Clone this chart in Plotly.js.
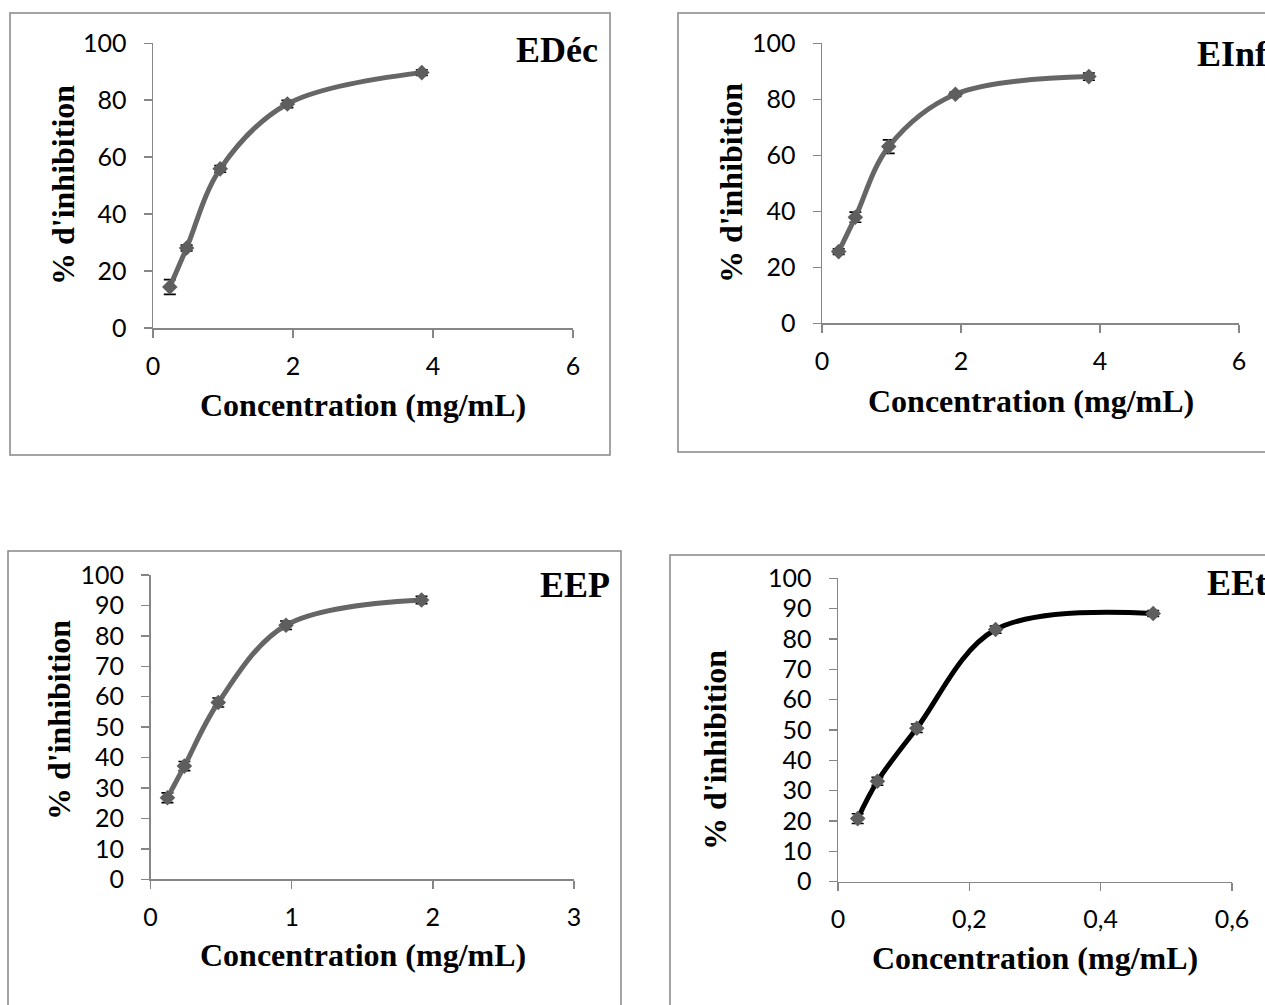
<!DOCTYPE html>
<html>
<head>
<meta charset="utf-8">
<script src="https://cdn.plot.ly/plotly-3.0.1.min.js"></script>
<style>html,body{margin:0;padding:0;background:#fff;} #chart{width:1265px;height:1005px;}</style>
</head>
<body>
<div id="chart"></div>
<script>
// ---- Data ----
const panelNames = ["EDéc", "EInf", "EEP", "EEt"];
const xTitle = "Concentration (mg/mL)";
const yTitle = "% d'inhibition";

const conc_EDec = [0.24, 0.48, 0.96, 1.92, 3.84];
const inhib_EDec = [14.4, 28.1, 55.9, 78.7, 89.7];
const err_EDec = [2.6, 1.0, 1.2, 1.3, 1.0];

const conc_EInf = [0.24, 0.48, 0.96, 1.92, 3.84];
const inhib_EInf = [25.6, 37.9, 63.1, 81.8, 88.1];
const err_EInf = [1.0, 1.8, 2.4, 0.8, 1.3];

const conc_EEP = [0.12, 0.24, 0.48, 0.96, 1.92];
const inhib_EEP = [26.8, 37.2, 58.1, 83.5, 91.8];
const err_EEP = [1.6, 1.5, 1.5, 1.4, 1.2];

const conc_EEt = [0.03, 0.06, 0.12, 0.24, 0.48];
const inhib_EEt = [20.8, 33.1, 50.6, 83.1, 88.4];
const err_EEt = [1.6, 1.3, 1.4, 1.2, 1.0];

const xTicks_A = [0, 2, 4, 6];
const xTicks_EEP = [0, 1, 2, 3];
const xTicks_EEt = [0, 0.2, 0.4, 0.6];
const xTickText_EEt = ["0", "0,2", "0,4", "0,6"];
const yTicks_20 = [0, 20, 40, 60, 80, 100];
const yTicks_10 = [0, 10, 20, 30, 40, 50, 60, 70, 80, 90, 100];

// ---- Layout helpers ----
const W = 1265, H = 1005;
const px = v => v / W;
const py = v => 1 - v / H;

const axisColor = "#868686";
const tickFont = {family: "Lato, 'Open Sans', sans-serif", size: 25, color: "#000"};
const titleFont = {family: "'Liberation Serif', 'Times New Roman', serif", size: 32, color: "#000"};
const nameFont = {family: "'Liberation Serif', 'Times New Roman', serif", size: 36, color: "#000"};

function xAxis(domain, range, vals, text) {
  const a = {domain: domain, range: range, tickmode: "array", tickvals: vals,
    showgrid: false, zeroline: false, showline: true, linecolor: axisColor, linewidth: 1.5,
    ticks: "outside", ticklen: 8, tickwidth: 1.5, tickcolor: axisColor,
    tickfont: tickFont, ticklabelstandoff: 7, automargin: false, fixedrange: true};
  if (text) a.ticktext = text;
  return a;
}
function yAxis(domain, vals, anchor) {
  return {domain: domain, range: [0, 100], tickmode: "array", tickvals: vals, anchor: anchor,
    showgrid: false, zeroline: false, showline: true, linecolor: axisColor, linewidth: 1.5,
    ticks: "outside", ticklen: 8, tickwidth: 1.5, tickcolor: axisColor,
    tickfont: tickFont, ticklabelstandoff: 12, automargin: false, fixedrange: true};
}

function series(x, y, err, xa, ya, lineColor) {
  return {x: x, y: y, xaxis: xa, yaxis: ya, type: "scatter", mode: "lines+markers",
    line: {shape: "spline", smoothing: 1, color: lineColor, width: 5},
    marker: {symbol: "diamond", size: 12, color: "#5e5e5e"},
    error_y: {type: "data", array: err, visible: true, color: "#000", thickness: 1.6, width: 6},
    showlegend: false, hoverinfo: "skip"};
}

const data = [
  series(conc_EDec, inhib_EDec, err_EDec, "x", "y", "#666666"),
  series(conc_EInf, inhib_EInf, err_EInf, "x2", "y2", "#666666"),
  series(conc_EEP, inhib_EEP, err_EEP, "x3", "y3", "#666666"),
  series(conc_EEt, inhib_EEt, err_EEt, "x4", "y4", "#000000")
];

function box(x0, y0, x1, y1) {
  return {type: "rect", xref: "paper", yref: "paper", x0: px(x0), x1: px(x1), y0: py(y1), y1: py(y0),
    line: {color: axisColor, width: 1.5}, fillcolor: "rgba(0,0,0,0)", layer: "below"};
}
function label(text, x, y, font, angle, xanchor) {
  return {text: "<b>" + text + "</b>", xref: "paper", yref: "paper", x: px(x), y: py(y),
    xanchor: xanchor || "center", yanchor: "middle", showarrow: false, font: font, textangle: angle || 0};
}

const layout = {
  width: W, height: H, autosize: false,
  margin: {l: 0, r: 0, t: 0, b: 0, pad: 0},
  paper_bgcolor: "#fff", plot_bgcolor: "rgba(0,0,0,0)",
  showlegend: false,
  xaxis: xAxis([px(153), px(573)], [0, 6], xTicks_A),
  yaxis: yAxis([py(328), py(43.3)], yTicks_20, "x"),
  xaxis2: xAxis([px(822), px(1239)], [0, 6], xTicks_A),
  yaxis2: yAxis([py(323.3), py(43.3)], yTicks_20, "x2"),
  xaxis3: xAxis([px(150.5), px(574)], [0, 3], xTicks_EEP),
  yaxis3: yAxis([py(879.3), py(575)], yTicks_10, "x3"),
  xaxis4: xAxis([px(838), px(1232)], [0, 0.6], xTicks_EEt, xTickText_EEt),
  yaxis4: yAxis([py(881.7), py(578.3)], yTicks_10, "x4"),
  shapes: [
    box(10, 13, 610, 455),
    box(678, 13, 1290, 452),
    box(8, 551, 621, 1030),
    box(670, 555, 1290, 1030)
  ],
  annotations: [
    label(panelNames[0], 600, 50, nameFont, 0, "right"),
    label(panelNames[1], 1195, 54, nameFont, 0, "left"),
    label(panelNames[2], 612, 585, nameFont, 0, "right"),
    label(panelNames[3], 1205, 583, nameFont, 0, "left"),
    label(xTitle, 363, 405, titleFont),
    label(xTitle, 1031, 401, titleFont),
    label(xTitle, 363, 955, titleFont),
    label(xTitle, 1035, 958, titleFont),
    label(yTitle, 63, 185, titleFont, -90),
    label(yTitle, 731, 183, titleFont, -90),
    label(yTitle, 59, 720, titleFont, -90),
    label(yTitle, 715, 750, titleFont, -90)
  ]
};
layout.xaxis.anchor = "y"; layout.xaxis2.anchor = "y2"; layout.xaxis3.anchor = "y3"; layout.xaxis4.anchor = "y4";

Plotly.newPlot("chart", data, layout, {staticPlot: true, displayModeBar: false});
</script>
</body>
</html>
